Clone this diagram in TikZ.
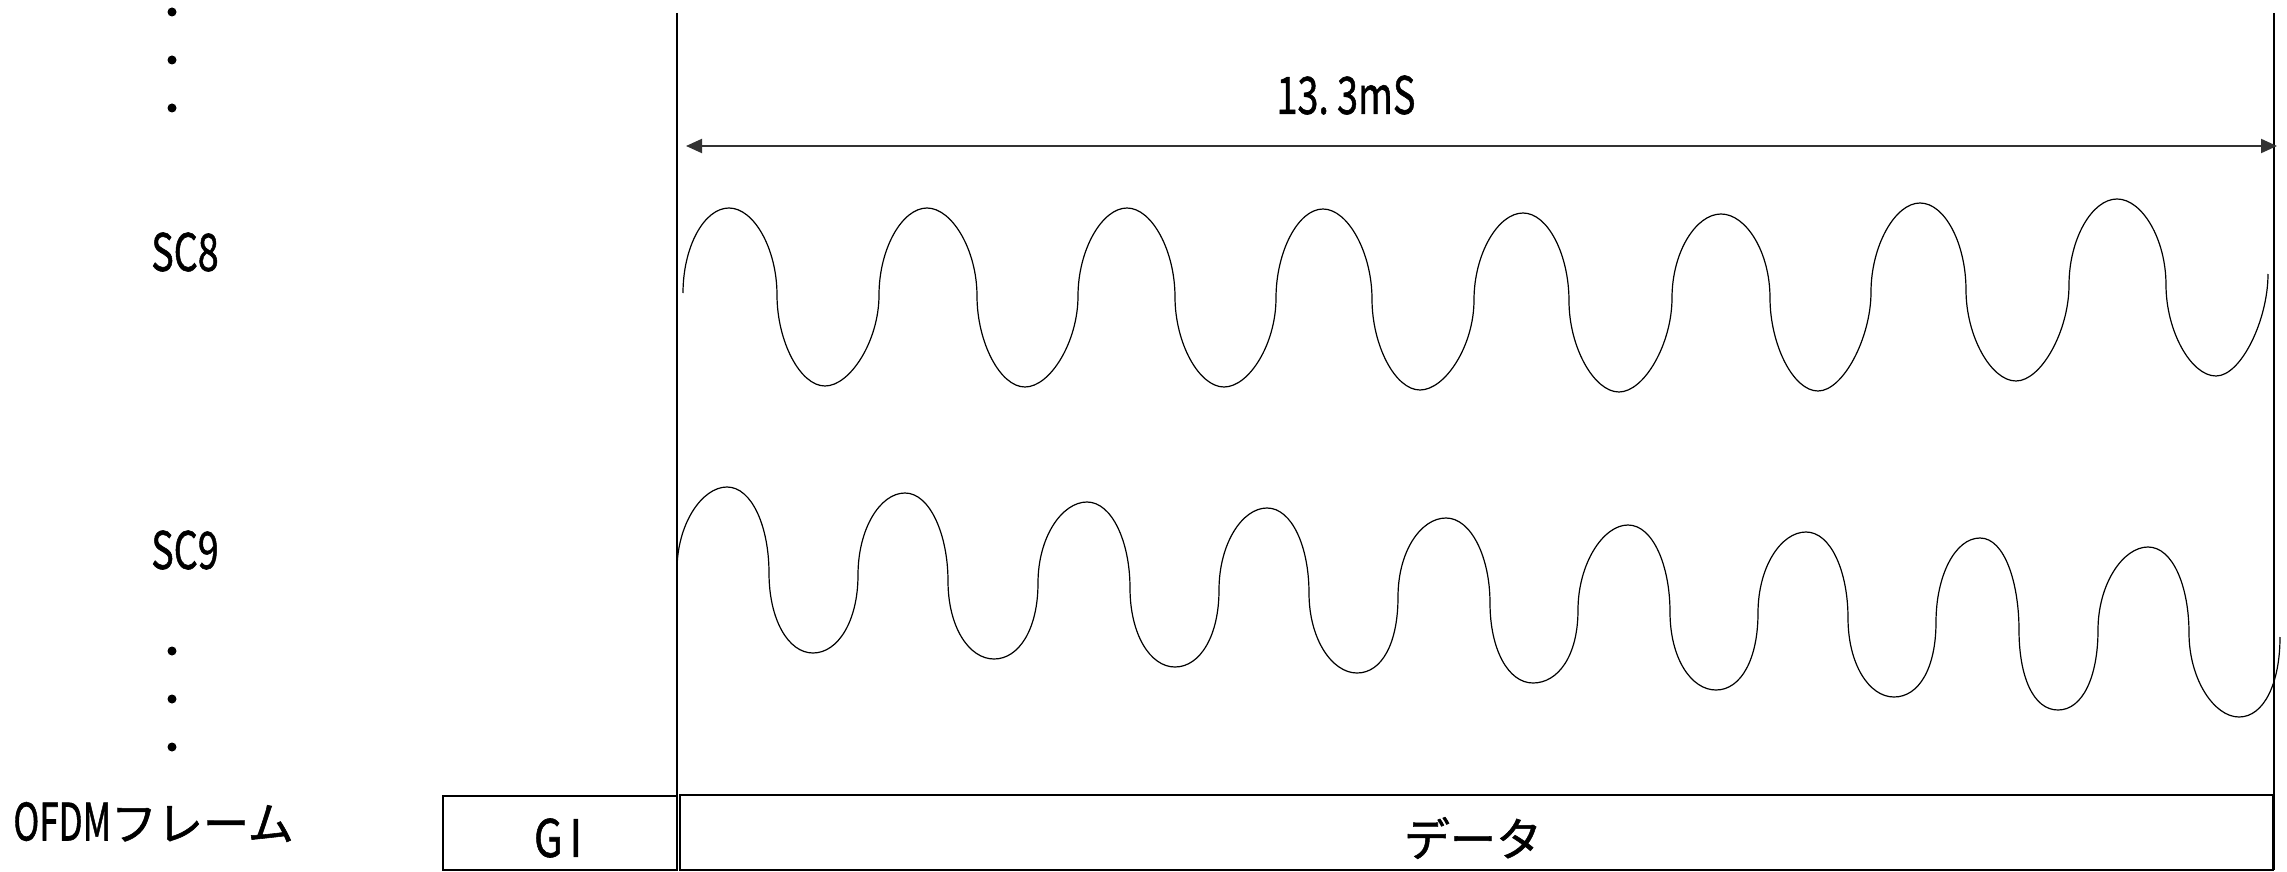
\documentclass[tikz,border=0pt]{standalone}
\usepackage{fontspec}
\usepackage{graphicx}
\setmainfont{Noto Sans CJK JP}
\newfontfamily\lblfont{Noto Sans CJK JP}[FakeBold=1.2]
\usetikzlibrary{arrows.meta}
\newcommand{\cnd}[2]{\scalebox{#1}[1.12]{#2}}
\tikzset{
  lbl/.style={font=\lblfont\fontsize{23}{27}\selectfont, inner sep=0pt},
  wave/.style={line width=0.6pt, black},
  vline/.style={line width=0.65pt, black},
  box/.style={draw, line width=1.2pt, black, inner sep=0pt},
  dimarrow/.style={line width=1pt, black!80, {Triangle[length=8pt,width=7pt]}-{Triangle[length=8pt,width=7pt]}},
  wzp/.style={out=90, in=180, out distance=23pt, in distance=12.5pt},
  wpz/.style={out=0, in=90, out distance=12.5pt, in distance=23pt},
  wzt/.style={out=-90, in=180, out distance=23pt, in distance=12.5pt},
  wtz/.style={out=0, in=-90, out distance=12.5pt, in distance=23pt},
}
\begin{document}
\begin{tikzpicture}[x=0.5pt, y=-0.5pt]
\useasboundingbox (0,0) rectangle (2287,872);

% dots
\foreach \yy in {12,60,108,651,699,747}
  \fill (172,\yy) circle[radius=4.5];

% labels
\node[lbl] (sc8) at (185,252) {\cnd{0.82}{SC8}};
\node[lbl] (sc9) at (185,550) {\cnd{0.82}{SC9}};
\node[lbl, anchor=west] (ofdm) at (13,822) {\cnd{0.76}{OFDM}フレーム};
\node[lbl] (dur) at (1346,95) {\cnd{0.82}{13.\kern5pt3mS}};

% frame boxes
\node[box, minimum width=117pt, minimum height=37pt] (gi) at (560,833) {};
\node[lbl] (gitext) at (558,838) {\cnd{0.9}{G\kern4pt I}};
\node[box, minimum width=796.5pt, minimum height=37.5pt] (data) at (1476.5,832.5) {};
\node[lbl] (datatext) at (1473,838) {データ};

% vertical boundary lines
\coordinate (lt) at (677,13);
\coordinate (lb) at (677,840);
\coordinate (rt) at (2274,13);
\coordinate (rb) at (2274,870);
\draw[vline] (lt) -- (lb);
\draw[vline] (rt) -- (rb);

% duration arrow
\coordinate (al) at (686,146);
\coordinate (ar) at (2277,146);
\draw[dimarrow] (al) -- (ar);

% SC8 wave
\draw[wave] (683,293) to[wzp] (729,208) to[wpz] (777,295) to[wzt] (825,386) to[wtz]
  (879,295) to[wzp] (927,208) to[wpz] (977,296) to[wzt] (1025,387) to[wtz]
  (1078,296) to[wzp] (1127,208) to[wpz] (1175,297) to[wzt] (1224,387) to[wtz]
  (1276,298) to[wzp] (1323,209) to[wpz] (1372,299) to[wzt] (1420,390) to[wtz]
  (1474,300) to[wzp] (1523,213) to[wpz] (1569,301) to[wzt] (1619,392) to[wtz]
  (1672,298) to[wzp] (1721,214) to[wpz] (1770,298) to[wzt] (1818,391) to[wtz]
  (1871,292) to[wzp] (1920,203) to[wpz] (1966,290) to[wzt] (2016,381) to[wtz]
  (2069,285) to[wzp] (2117,199) to[wpz] (2166,285) to[wzt] (2216,376) to[wtz]
  (2268,274);

% SC9 wave
\draw[wave] (677,570) to[wzp] (727,487) to[wpz] (769,573) to[wzt] (813,653) to[wtz]
  (858,575) to[wzp] (905,493) to[wpz] (948,581) to[wzt] (994,659) to[wtz]
  (1038,583) to[wzp] (1087,502) to[wpz] (1130,588) to[wzt] (1175,667) to[wtz]
  (1219,590) to[wzp] (1267,508) to[wpz] (1309,593) to[wzt] (1357,673) to[wtz]
  (1398,597) to[wzp] (1446,518) to[wpz] (1490,603) to[wzt] (1533,683) to[wtz]
  (1578,610) to[wzp] (1628,525) to[wpz] (1670,612) to[wzt] (1716,690) to[wtz]
  (1758,613) to[wzp] (1806,532) to[wpz] (1848,618) to[wzt] (1894,697) to[wtz]
  (1936,622) to[wzp] (1980,538) to[wpz] (2019,630) to[wzt] (2058,710) to[wtz]
  (2098,630) to[wzp] (2148,547) to[wpz] (2189,633) to[wzt] (2239,717) to[wtz]
  (2280,637);
\end{tikzpicture}
\end{document}
